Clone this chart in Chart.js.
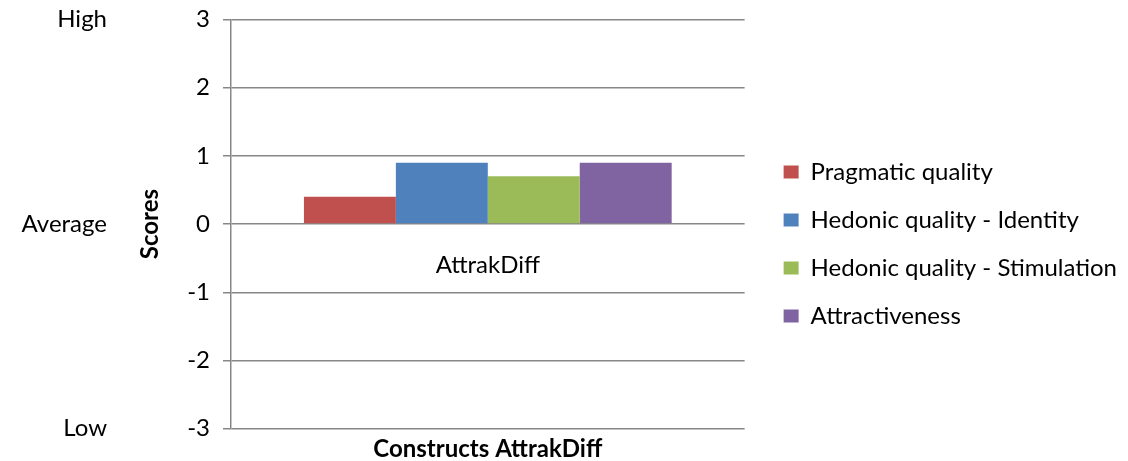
<!DOCTYPE html>
<html>
<head>
<meta charset="utf-8">
<title>AttrakDiff scores</title>
<script src="https://cdn.jsdelivr.net/npm/chart.js@4/dist/chart.umd.min.js"></script>
<style>
  html, body { margin: 0; padding: 0; background: #fff; }
  canvas { display: block; }
</style>
</head>
<body>
<canvas id="chart" width="1128" height="461"></canvas>
<script>
// Category on the x axis
const categories = ['AttrakDiff'];

// Series names and their scores
const seriesNames = [
  'Pragmatic quality',
  'Hedonic quality - Identity',
  'Hedonic quality - Stimulation',
  'Attractiveness'
];
const pragmaticQuality = [0.4];
const hedonicIdentity = [0.9];
const hedonicStimulation = [0.7];
const attractiveness = [0.9];

// Score range and the verbal levels shown beside it
const scoreMin = -3;
const scoreMax = 3;
const levelValues = [3, 0, -3];
const levelNames = ['High', 'Average', 'Low'];

const seriesColors = ['#C0504D', '#4F81BD', '#9BBB59', '#8064A2'];
const seriesValues = [pragmaticQuality, hedonicIdentity, hedonicStimulation, attractiveness];

const FONT = 'Lato';
const gridColor = '#878787';
const labelFont = { family: FONT, size: 24 };
const titleFont = { family: FONT, size: 24, weight: 'bold', lineHeight: 1.2 };

// vertical axes keep the plot edges where the layout puts them
function fixWidth(width) {
  return function (scale) {
    scale.width = width;
    scale.paddingTop = 0;
    scale.paddingBottom = 0;
  };
}

new Chart(document.getElementById('chart'), {
  type: 'bar',
  data: {
    labels: categories,
    datasets: seriesNames.map((name, i) => ({
      label: name,
      data: seriesValues[i],
      backgroundColor: seriesColors[i],
      borderWidth: 0,
      categoryPercentage: 0.716,
      barPercentage: 1.0,
      xAxisID: 'x',
      yAxisID: 'y'
    }))
  },
  options: {
    responsive: false,
    devicePixelRatio: 1,
    animation: false,
    layout: { padding: { top: 19.5, left: 0, right: 1, bottom: 0 } },
    plugins: {
      tooltip: { enabled: false },
      legend: {
        position: 'right',
        align: 'center',
        maxWidth: 420,
        title: { display: true, text: '', font: { size: 6.25, lineHeight: 1.2 }, padding: 0 },
        labels: {
          font: labelFont,
          color: '#000',
          boxWidth: 15,
          boxHeight: 13,
          padding: 24
        }
      }
    },
    scales: {
      x: {
        type: 'category',
        position: 'bottom',
        offset: true,
        grid: { display: false, drawTicks: false },
        border: { display: false },
        ticks: { display: false },
        title: {
          display: true,
          text: 'Constructs AttrakDiff',
          color: '#000',
          font: { family: FONT, size: 24, weight: 'bold', lineHeight: 1 },
          padding: { top: 8.3, bottom: 0 }
        }
      },
      // category label sits just under the zero line
      xZero: {
        type: 'category',
        axis: 'x',
        position: { y: 0 },
        offset: true,
        grid: { display: false, drawTicks: false },
        border: { display: false },
        ticks: { font: labelFont, color: '#000', padding: 27 }
      },
      y: {
        type: 'linear',
        position: 'left',
        weight: 1,
        min: scoreMin,
        max: scoreMax,
        ticks: { stepSize: 1, font: labelFont, color: '#000', padding: 13 },
        grid: { color: gridColor, lineWidth: 1.5, tickLength: 8, drawTicks: true },
        border: { display: true, color: gridColor, width: 1.5 },
        title: {
          display: true,
          text: 'Scores',
          color: '#000',
          font: titleFont,
          padding: { top: 4.6, bottom: 0 }
        },
        afterFit: fixWidth(100)
      },
      // verbal levels at the top, middle and bottom of the score range
      level: {
        type: 'linear',
        axis: 'y',
        position: 'left',
        weight: 2,
        min: scoreMin,
        max: scoreMax,
        grid: { display: false, drawTicks: false },
        border: { display: false },
        ticks: {
          stepSize: 1,
          font: labelFont,
          color: '#000',
          padding: 24,
          callback(value) {
            const i = levelValues.indexOf(value);
            return i >= 0 ? levelNames[i] : '';
          }
        },
        afterFit: fixWidth(131)
      },
      // spacing between the plot and the legend
      gap: {
        type: 'linear',
        axis: 'y',
        position: 'right',
        grid: { display: false, drawTicks: false },
        border: { display: false },
        ticks: { display: false },
        afterFit: fixWidth(15)
      }
    }
  }
});
</script>
</body>
</html>
